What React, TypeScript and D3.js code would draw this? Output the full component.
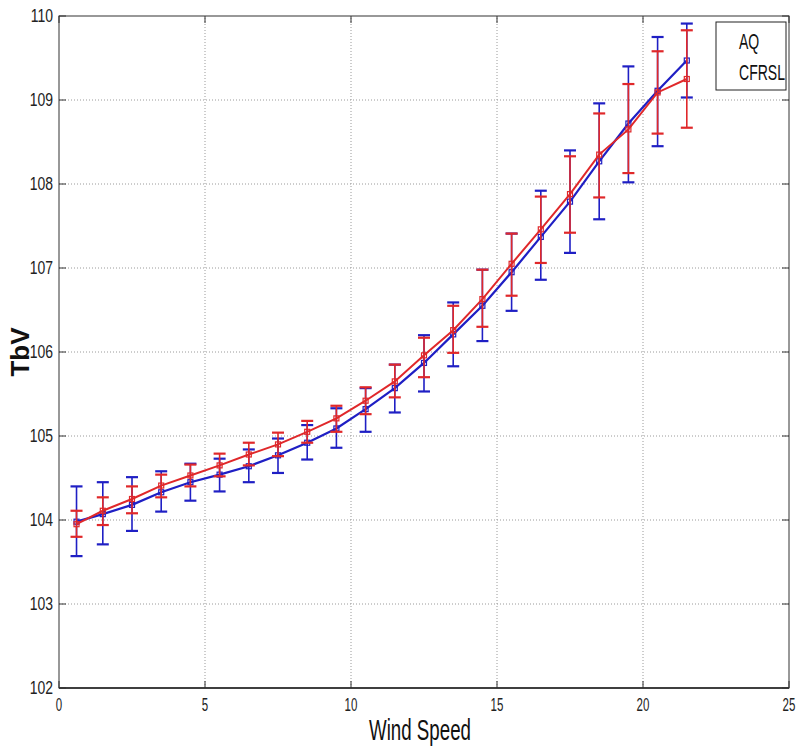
import React from 'react';
import * as d3 from 'd3';

// wind speed bins
const windSpeed = [0.6, 1.5, 2.5, 3.5, 4.5, 5.5, 6.5, 7.5, 8.5, 9.5, 10.5, 11.5, 12.5, 13.5, 14.5, 15.5, 16.5, 17.5, 18.5, 19.5, 20.5, 21.5];

const aqMean = [103.98, 104.07, 104.18, 104.33, 104.45, 104.54, 104.64, 104.77, 104.92, 105.09, 105.32, 105.57, 105.87, 106.21, 106.55, 106.95, 107.37, 107.79, 108.27, 108.72, 109.11, 109.47];
const aqUpper = [104.40, 104.45, 104.51, 104.58, 104.67, 104.73, 104.84, 104.97, 105.13, 105.33, 105.57, 105.85, 106.20, 106.59, 106.98, 107.41, 107.92, 108.40, 108.96, 109.40, 109.75, 109.91];
const aqLower = [103.57, 103.71, 103.87, 104.10, 104.23, 104.34, 104.45, 104.56, 104.72, 104.86, 105.05, 105.28, 105.53, 105.83, 106.13, 106.49, 106.86, 107.18, 107.58, 108.02, 108.45, 109.03];

const cfMean = [103.95, 104.11, 104.25, 104.41, 104.53, 104.65, 104.78, 104.90, 105.05, 105.21, 105.42, 105.65, 105.96, 106.26, 106.63, 107.05, 107.46, 107.88, 108.35, 108.65, 109.09, 109.25];
const cfUpper = [104.11, 104.27, 104.40, 104.54, 104.66, 104.79, 104.92, 105.04, 105.18, 105.36, 105.58, 105.85, 106.17, 106.55, 106.98, 107.41, 107.85, 108.33, 108.84, 109.19, 109.58, 109.83];
const cfLower = [103.80, 103.94, 104.08, 104.27, 104.40, 104.52, 104.65, 104.76, 104.92, 105.05, 105.26, 105.46, 105.70, 105.99, 106.30, 106.67, 107.06, 107.42, 107.84, 108.13, 108.60, 108.67];

const xTicks = [0, 5, 10, 15, 20, 25];
const yTicks = [102, 103, 104, 105, 106, 107, 108, 109, 110];
const legendLabels = ['AQ', 'CFRSL'];

const W = 798;
const H = 754;
const margin = { left: 59, right: 9, top: 16, bottom: 66 };

const BLUE = '#1f1fc4';
const RED = '#e0282a';
const FONT = 'Arial, "Liberation Sans", sans-serif';

export default function App() {
    const xScale = d3.scaleLinear().domain([0, 25]).range([margin.left, W - margin.right]);
    const yScale = d3.scaleLinear().domain([102, 110]).range([H - margin.bottom, margin.top]);

    const line = d3.line<[number, number]>()
        .x((d) => xScale(d[0]))
        .y((d) => yScale(d[1]));

    const series = [
        { name: 'AQ', mean: aqMean, upper: aqUpper, lower: aqLower, color: BLUE, width: 2.2 },
        { name: 'CFRSL', mean: cfMean, upper: cfUpper, lower: cfLower, color: RED, width: 2 },
    ];

    const x0 = xScale(0), x1 = xScale(25), y0 = yScale(102), y1 = yScale(110);
    const capHalf = 6;
    const mk = 5;

    return (
        <svg width={W} height={H} style={{ position: 'absolute', left: 0, top: 0, background: '#fff' }}>
            {/* grid */}
            <g stroke="#9a9a9a" strokeWidth={1} strokeDasharray="1,2">
                {xTicks.slice(1, -1).map((t) => (
                    <line key={'gx' + t} x1={xScale(t)} x2={xScale(t)} y1={y0} y2={y1} />
                ))}
                {yTicks.slice(1, -1).map((t) => (
                    <line key={'gy' + t} x1={x0} x2={x1} y1={yScale(t)} y2={yScale(t)} />
                ))}
            </g>

            {/* frame */}
            <rect x={x0} y={y1} width={x1 - x0} height={y0 - y1} fill="none" stroke="#333" strokeWidth={1} />
            <line x1={x0} x2={x1} y1={y0} y2={y0} stroke="#222" strokeWidth={1.5} />

            {/* ticks inward */}
            <g stroke="#333" strokeWidth={1}>
                {xTicks.map((t) => (
                    <g key={'tx' + t}>
                        <line x1={xScale(t)} x2={xScale(t)} y1={y0} y2={y0 - 7} />
                        <line x1={xScale(t)} x2={xScale(t)} y1={y1} y2={y1 + 7} />
                    </g>
                ))}
                {yTicks.map((t) => (
                    <g key={'ty' + t}>
                        <line x1={x0} x2={x0 + 7} y1={yScale(t)} y2={yScale(t)} />
                        <line x1={x1} x2={x1 - 7} y1={yScale(t)} y2={yScale(t)} />
                    </g>
                ))}
            </g>

            {/* tick labels */}
            <g fontFamily={FONT} fill="#222">
                {xTicks.map((t) => (
                    <text key={'lx' + t} fontSize={16} transform={`translate(${xScale(t)},${y0 + 23}) scale(0.72,1.2)`} textAnchor="middle">{t}</text>
                ))}
                {yTicks.map((t) => (
                    <text key={'ly' + t} fontSize={17} transform={`translate(${x0 - 6},${yScale(t) + 6}) scale(0.82,1.1)`} textAnchor="end">{t}</text>
                ))}
            </g>

            {/* axis titles */}
            <text transform={`translate(${(x0 + x1) / 2 - 4},${H - 14}) scale(0.78,1.2)`} textAnchor="middle"
                fontFamily={FONT} fontSize={24} fill="#111">Wind Speed</text>
            <text transform={`translate(29,${yScale(106)}) rotate(-90)`} textAnchor="middle"
                fontFamily={FONT} fontSize={26} fontWeight="bold" fill="#111">TbV</text>

            {/* series */}
            {series.map((s) => (
                <g key={s.name}>
                    <g stroke={s.color} strokeWidth={1.6}>
                        {windSpeed.map((w, i) => (
                            <g key={i}>
                                <line x1={xScale(w)} x2={xScale(w)} y1={yScale(s.lower[i])} y2={yScale(s.upper[i])} />
                                <line x1={xScale(w) - capHalf} x2={xScale(w) + capHalf} y1={yScale(s.upper[i])} y2={yScale(s.upper[i])} strokeWidth={2.2} />
                                <line x1={xScale(w) - capHalf} x2={xScale(w) + capHalf} y1={yScale(s.lower[i])} y2={yScale(s.lower[i])} strokeWidth={2.2} />
                            </g>
                        ))}
                    </g>
                    <path d={line(windSpeed.map((w, i) => [w, s.mean[i]] as [number, number])) || ''}
                        fill="none" stroke={s.color} strokeWidth={s.width} />
                    <g fill="none" stroke={s.color} strokeWidth={1.2}>
                        {windSpeed.map((w, i) => (
                            <rect key={i} x={xScale(w) - mk / 2} y={yScale(s.mean[i]) - mk / 2} width={mk} height={mk} />
                        ))}
                    </g>
                </g>
            ))}

            {/* legend */}
            <g>
                <rect x={716} y={22} width={70} height={68} fill="#fff" stroke="#222" strokeWidth={1} />
                {legendLabels.map((l, i) => (
                    <text key={l} transform={`translate(739,${49 + i * 31}) scale(0.78,1.2)`} textAnchor="start"
                        fontFamily={FONT} fontSize={18} fill="#111">{l}</text>
                ))}
            </g>
        </svg>
    );
}
